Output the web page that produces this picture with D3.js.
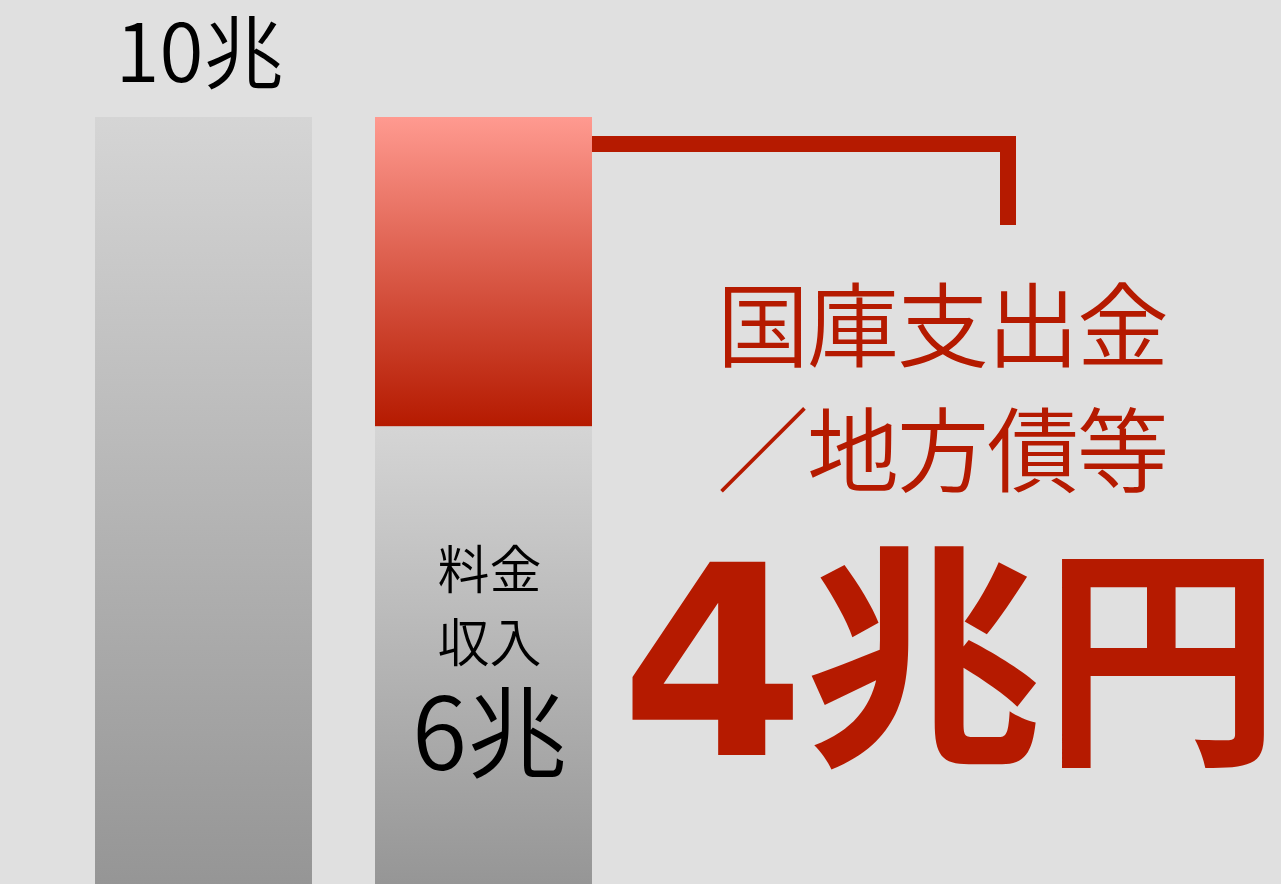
<!DOCTYPE html>
<html>
<head>
<meta charset="utf-8">
<script src="https://cdn.jsdelivr.net/npm/d3@7"></script>
<style>
  html, body { margin: 0; padding: 0; background: #e0e0e0; overflow: hidden; }
  svg { display: block; font-family: "Noto Sans CJK JP", "Noto Sans", sans-serif; }
</style>
</head>
<body>
<div id="chart"></div>
<script>
// データ（兆円）
const categories = ['総額', '内訳'];
const totalValues = [10];
const segmentNames = ['料金収入', '国庫支出金／地方債等'];
const segmentValues = [6, 4];
const totalLabel = '10兆';
const revenueLabelLines = ['料金', '収入'];
const revenueValueLabel = '6兆';
const subsidyLabelLines = ['国庫支出金', '／地方債等'];
const subsidyNumber = '4';
const subsidyUnit = '兆円';

const width = 1281, height = 884;
const red = '#b51a00';

const svg = d3.select('#chart').append('svg')
  .attr('width', width)
  .attr('height', height);

const defs = svg.append('defs');
const grayGrad = defs.append('linearGradient')
  .attr('id', 'grayGrad').attr('x1', 0).attr('y1', 0).attr('x2', 0).attr('y2', 1);
grayGrad.append('stop').attr('offset', '0%').attr('stop-color', '#d5d5d5');
grayGrad.append('stop').attr('offset', '100%').attr('stop-color', '#959595');

const redGrad = defs.append('linearGradient')
  .attr('id', 'redGrad').attr('x1', 0).attr('y1', 0).attr('x2', 0).attr('y2', 1);
redGrad.append('stop').attr('offset', '0%').attr('stop-color', '#ff9a90');
redGrad.append('stop').attr('offset', '100%').attr('stop-color', '#b51a00');

// 背景
svg.append('rect').attr('width', width).attr('height', height).attr('fill', '#e0e0e0');

const x = d3.scaleBand()
  .domain(categories)
  .range([95, 592])
  .paddingInner(0.225)
  .paddingOuter(0);

const y = d3.scaleLinear()
  .domain([0, 10])
  .range([890, 117]);

// 総額の棒
svg.append('rect')
  .attr('x', x(categories[0]))
  .attr('y', y(totalValues[0]))
  .attr('width', x.bandwidth())
  .attr('height', y(0) - y(totalValues[0]))
  .attr('fill', 'url(#grayGrad)');

// 内訳（積み上げ）
const stacked = [];
let acc = 0;
segmentValues.forEach((v, i) => {
  stacked.push({ name: segmentNames[i], y0: acc, y1: acc + v });
  acc += v;
});

svg.selectAll('.seg')
  .data(stacked)
  .enter().append('rect')
  .attr('class', 'seg')
  .attr('x', x(categories[1]))
  .attr('y', d => y(d.y1))
  .attr('width', x.bandwidth())
  .attr('height', d => y(d.y0) - y(d.y1))
  .attr('fill', (d, i) => i === 0 ? 'url(#grayGrad)' : 'url(#redGrad)');

// 10兆 ラベル
svg.append('text')
  .attr('x', x(categories[0]) + x.bandwidth() / 2 - 4)
  .attr('y', y(totalValues[0]) - 35)
  .attr('text-anchor', 'middle')
  .attr('font-size', 80)
  .attr('font-weight', 350)
  .attr('fill', '#000')
  .text(totalLabel);

// 料金収入 ラベル
const cx2 = x(categories[1]) + x.bandwidth() / 2 + 6;
revenueLabelLines.forEach((t, i) => {
  svg.append('text')
    .attr('x', cx2)
    .attr('y', 589 + i * 73)
    .attr('text-anchor', 'middle')
    .attr('font-size', 52)
    .attr('font-weight', 350)
    .attr('fill', '#000')
    .text(t);
});
svg.append('text')
  .attr('x', cx2)
  .attr('y', 770)
  .attr('text-anchor', 'middle')
  .attr('font-size', 100)
  .attr('font-weight', 350)
  .attr('fill', '#000')
  .text(revenueValueLabel);

// ブラケット
const stackTop = y(acc);
const bracketY = stackTop + 27;
svg.append('path')
  .attr('d', `M${x(categories[1]) + x.bandwidth()},${bracketY} H1008 V225`)
  .attr('fill', 'none')
  .attr('stroke', red)
  .attr('stroke-width', 16)
  .attr('stroke-linejoin', 'miter');

// 国庫支出金／地方債等
subsidyLabelLines.forEach((t, i) => {
  svg.append('text')
    .attr('x', 1167)
    .attr('y', 360 + i * 125)
    .attr('text-anchor', 'end')
    .attr('font-size', 92)
    .attr('font-weight', 350)
    .attr('letter-spacing', -2)
    .attr('fill', red)
    .text(t);
});

// 4兆円
const big = svg.append('text')
  .attr('x', 1281)
  .attr('y', 755)
  .attr('text-anchor', 'end')
  .attr('font-weight', 700)
  .attr('fill', red);
big.append('tspan')
  .attr('font-family', '"DejaVu Sans", sans-serif')
  .attr('font-size', 265)
  .text(subsidyNumber);
big.append('tspan')
  .attr('dy', -9)
  .attr('font-size', 238)
  .text(subsidyUnit);
</script>
</body>
</html>
